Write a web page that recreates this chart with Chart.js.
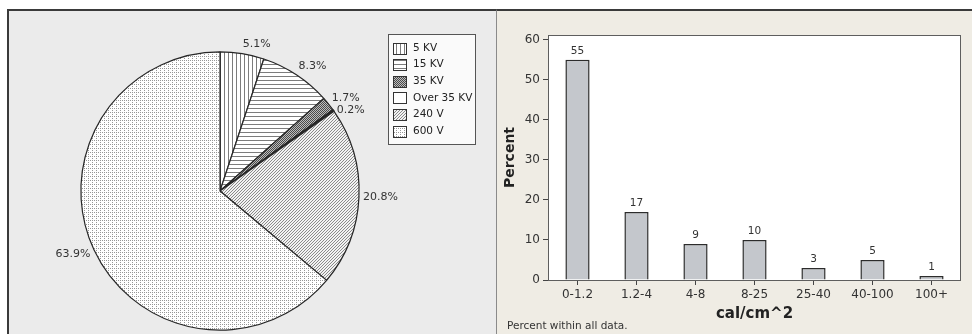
<!DOCTYPE html>
<html>
<head>
<meta charset="utf-8">
<script src="https://cdn.jsdelivr.net/npm/chart.js@4.4.0/dist/chart.umd.min.js"></script>
<style>
  html, body { margin: 0; padding: 0; background: #fff; }
  body { width: 972px; height: 334px; position: relative; overflow: hidden; font-family: "DejaVu Sans", sans-serif; }
  #leftPanel { position: absolute; left: 7px; top: 9px; width: 489px; height: 325px; background: #ebebeb;
               border-top: 2px solid #3a3a3a; border-left: 2px solid #3a3a3a; box-sizing: border-box; }
  #rightPanel { position: absolute; left: 496px; top: 9px; width: 476px; height: 325px; background: #efece4;
                border-top: 2px solid #3a3a3a; border-left: 1px solid #8a8a8a; box-sizing: border-box; }
  #pie { position: absolute; left: 0; top: 0; }
  #bar { position: absolute; left: 497px; top: 0; }
</style>
</head>
<body>
<div id="leftPanel"></div>
<div id="rightPanel"></div>
<canvas id="pie" width="494" height="334"></canvas>
<canvas id="bar" width="475" height="334"></canvas>
<script>
// Share of arc-flash incidents by voltage class (percent)
const voltageClasses = ['5 KV', '15 KV', '35 KV', 'Over 35 KV', '240 V', '600 V'];
const voltageShares = [5.1, 8.3, 1.7, 0.2, 20.8, 63.9];

// Incident energy distribution (percent within all data)
const energyBins = ['0-1.2', '1.2-4', '4-8', '8-25', '25-40', '40-100', '100+'];
const energyPercents = [55, 17, 9, 10, 3, 5, 1];
const percentTicks = [0, 10, 20, 30, 40, 50, 60];

const FONT = '"DejaVu Sans", sans-serif';
Chart.defaults.font.family = FONT;
Chart.defaults.color = '#333';

// Monochrome fill patterns, one per voltage class
function makePattern(size, paint) {
  const c = document.createElement('canvas');
  c.width = c.height = size;
  const g = c.getContext('2d');
  g.fillStyle = '#fff';
  g.fillRect(0, 0, size, size);
  paint(g, size);
  return g.createPattern(c, 'repeat');
}
const fills = [
  makePattern(4, (g) => { g.fillStyle = '#7c7c7c'; g.fillRect(0, 0, 1, 4); }),          // vertical lines
  makePattern(4, (g) => { g.fillStyle = '#7c7c7c'; g.fillRect(0, 0, 4, 1); }),          // horizontal lines
  makePattern(2, (g) => { g.fillStyle = '#bdbdbd'; g.fillRect(0, 0, 2, 2);
                          g.fillStyle = '#4a4a4a'; g.fillRect(0, 0, 1, 1); g.fillRect(1, 1, 1, 1); }), // fine check
  '#ffffff',                                                                              // plain
  makePattern(3, (g) => { g.fillStyle = '#f2f2f2'; g.fillRect(0, 0, 3, 3);
                          g.fillStyle = '#8a8a8a';
                          for (let x = 0; x < 3; x++) g.fillRect(x, 2 - x, 1, 1); }),    // diagonal hatch
  makePattern(4, (g) => { g.fillStyle = '#979797';
                          g.fillRect(0, 0, 1, 1); g.fillRect(0, 2, 1, 1); g.fillRect(2, 0, 1, 1); }) // dotted grid
];

// Percent labels just outside each slice
const sliceLabels = {
  id: 'sliceLabels',
  afterDatasetsDraw(chart) {
    const ctx = chart.ctx;
    const meta = chart.getDatasetMeta(0);
    const h = 12;
    ctx.save();
    ctx.font = '11px ' + FONT;
    ctx.fillStyle = '#333';
    ctx.textBaseline = 'middle';
    let prevRight = null;
    meta.data.forEach((arc, i) => {
      const p = arc.getProps(['x', 'y', 'startAngle', 'endAngle', 'outerRadius'], true);
      const mid = (p.startAngle + p.endAngle) / 2;
      const r = p.outerRadius + 4;
      const ax = p.x + Math.cos(mid) * r;
      let cy = p.y + Math.sin(mid) * r + Math.sin(mid) * h / 2;
      const right = Math.cos(mid) >= 0;
      if (right) {
        if (prevRight !== null && cy < prevRight + h) cy = prevRight + h;
        prevRight = cy;
      }
      ctx.textAlign = right ? 'left' : 'right';
      ctx.fillText(voltageShares[i].toFixed(1) + '%', ax, cy);
    });
    ctx.restore();
  }
};

// Boxed legend with pattern swatches
const patternLegend = {
  id: 'patternLegend',
  afterDraw(chart) {
    const ctx = chart.ctx;
    const box = { x: 388.5, y: 34.5, w: 87, h: 110 };
    ctx.save();
    ctx.fillStyle = '#fafafa';
    ctx.fillRect(box.x, box.y, box.w, box.h);
    ctx.strokeStyle = '#555';
    ctx.lineWidth = 1;
    ctx.strokeRect(box.x, box.y, box.w, box.h);
    ctx.font = '10.5px ' + FONT;
    ctx.textBaseline = 'middle';
    ctx.textAlign = 'left';
    voltageClasses.forEach((name, i) => {
      const cy = 48 + i * 16.6;
      const sy = Math.round(cy - 5.5) + 0.5;
      ctx.fillStyle = fills[i];
      ctx.fillRect(393.5, sy, 13, 11);
      ctx.strokeStyle = '#333';
      ctx.strokeRect(393.5, sy, 13, 11);
      ctx.fillStyle = '#222';
      ctx.fillText(name, 413, cy);
    });
    ctx.restore();
  }
};

new Chart(document.getElementById('pie'), {
  type: 'pie',
  data: {
    labels: voltageClasses,
    datasets: [{
      data: voltageShares,
      backgroundColor: fills,
      borderColor: '#262626',
      borderWidth: [1.2, 1.2, 1.2, 1.8, 1.2, 1.2]
    }]
  },
  options: {
    responsive: false,
    animation: false,
    layout: { padding: { left: 80, right: 134, top: 51, bottom: 3 } },
    plugins: { legend: { display: false }, tooltip: { enabled: false } }
  },
  plugins: [sliceLabels, patternLegend]
});

// White plotting area with a thin frame
const plotFrame = {
  id: 'plotFrame',
  beforeDatasetsDraw(chart) {
    const a = chart.chartArea, ctx = chart.ctx;
    ctx.save();
    ctx.fillStyle = '#fff';
    ctx.fillRect(a.left, a.top, a.right - a.left, a.bottom - a.top);
    ctx.restore();
  },
  afterDatasetsDraw(chart) {
    const a = chart.chartArea, ctx = chart.ctx;
    ctx.save();
    ctx.strokeStyle = '#5e5e5e';
    ctx.lineWidth = 1;
    ctx.strokeRect(a.left + 0.5, a.top + 0.5, a.right - a.left - 1, a.bottom - a.top);
    // values above the bars
    const meta = chart.getDatasetMeta(0);
    ctx.font = '10.5px ' + FONT;
    ctx.fillStyle = '#333';
    ctx.textAlign = 'center';
    ctx.textBaseline = 'bottom';
    meta.data.forEach((bar, i) => {
      ctx.fillText(String(energyPercents[i]), bar.x, bar.y - 3);
    });
    ctx.restore();
  },
  afterDraw(chart) {
    const ctx = chart.ctx;
    ctx.save();
    ctx.font = '10.5px ' + FONT;
    ctx.fillStyle = '#333';
    ctx.textAlign = 'left';
    ctx.textBaseline = 'alphabetic';
    ctx.fillText('Percent within all data.', 10, 329);
    ctx.restore();
  }
};

new Chart(document.getElementById('bar'), {
  type: 'bar',
  data: {
    labels: energyBins,
    datasets: [{
      data: energyPercents,
      backgroundColor: '#c4c7cc',
      borderColor: '#2c2c2c',
      borderWidth: 1.5,
      borderSkipped: 'bottom',
      categoryPercentage: 1,
      barPercentage: 0.41
    }]
  },
  options: {
    responsive: false,
    animation: false,
    layout: { padding: { left: 0, right: 11, top: 35, bottom: 0 } },
    plugins: { legend: { display: false }, tooltip: { enabled: false } },
    scales: {
      x: {
        afterFit(scale) { scale.height = 54; },
        border: { display: false },
        grid: { offset: false, drawOnChartArea: false, drawTicks: true, tickLength: 5, color: '#444' },
        ticks: { font: { size: 12 }, color: '#333', padding: 3, maxRotation: 0 },
        title: { display: true, text: 'cal/cm^2', font: { size: 15, weight: 'bold' }, color: '#222',
                 padding: { top: 0, bottom: 11 } }
      },
      y: {
        min: 0,
        max: 61.2,
        afterFit(scale) { scale.width = 51; },
        afterBuildTicks(scale) { scale.ticks = percentTicks.map(v => ({ value: v })); },
        border: { display: false },
        grid: { drawOnChartArea: false, drawTicks: true, tickLength: 5, color: '#444' },
        ticks: { font: { size: 12 }, color: '#333', padding: 3 },
        title: { display: true, text: 'Percent', font: { size: 14, weight: 'bold' }, color: '#222',
                 padding: { top: 4.6, bottom: 0 } }
      }
    }
  },
  plugins: [plotFrame]
});
</script>
</body>
</html>
